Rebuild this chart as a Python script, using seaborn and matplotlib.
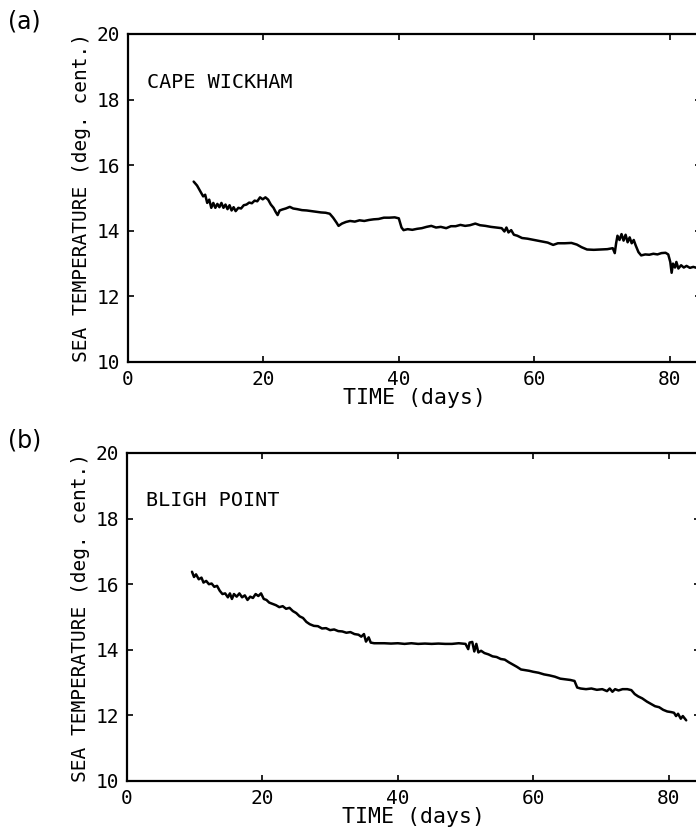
import matplotlib
matplotlib.use("Agg")
import matplotlib.pyplot as plt
import seaborn as sns
import pandas as pd

# ---- data ----
days_a = [9.7, 10.2, 10.7, 11.1, 11.4, 11.7, 12.0, 12.3, 12.6, 12.9, 13.2, 13.5, 13.8, 14.1, 14.4,
          14.7, 15.0, 15.3, 15.6, 15.9, 16.3, 16.7, 17.1, 17.5, 17.9, 18.3, 18.7, 19.1, 19.5, 19.9,
          20.3, 20.7, 21.1, 21.5, 21.8, 22.1, 22.4, 22.8, 23.3, 23.9, 24.4, 25.0, 25.7, 26.4, 27.1,
          27.8, 28.5, 29.2, 29.8, 30.3, 30.8, 31.1, 31.6, 32.2, 32.8, 33.5, 34.2, 34.9, 35.6, 36.3,
          37.0, 37.8, 38.6, 39.4, 40.0, 40.4, 40.7, 41.3, 42.0, 42.7, 43.4, 44.1, 44.8, 45.5, 46.2,
          47.0, 47.7, 48.4, 49.1, 49.8, 50.5, 51.3, 52.0, 52.8, 53.6, 54.4, 55.2, 55.6, 55.9, 56.2,
          56.6, 57.0, 57.5, 58.2, 59.0, 60.0, 61.0, 62.0, 62.8, 63.5, 64.5, 65.5, 66.3, 67.0, 67.8,
          68.8, 69.8, 70.8, 71.6, 71.9, 72.1, 72.3, 72.6, 72.9, 73.2, 73.5, 73.8, 74.1, 74.4, 74.7,
          75.0, 75.4, 75.8, 76.4, 77.0, 77.6, 78.2, 78.8, 79.4, 79.8, 80.1, 80.3, 80.5, 80.8, 81.0,
          81.3, 81.7, 82.1, 82.5, 83.0, 83.5, 84.0, 84.4]
temp_a = [15.50, 15.38, 15.20, 15.05, 15.10, 14.85, 14.95, 14.70, 14.85, 14.70, 14.82, 14.72, 14.85, 14.70, 14.80,
          14.66, 14.78, 14.62, 14.72, 14.60, 14.70, 14.68, 14.78, 14.80, 14.86, 14.84, 14.92, 14.90, 15.02, 14.96,
          15.02, 14.95, 14.80, 14.70, 14.58, 14.48, 14.62, 14.65, 14.68, 14.73, 14.68, 14.66, 14.63, 14.62, 14.60,
          14.58, 14.56, 14.55, 14.52, 14.40, 14.25, 14.15, 14.22, 14.27, 14.30, 14.28, 14.32, 14.30, 14.33, 14.35,
          14.36, 14.40, 14.40, 14.41, 14.38, 14.10, 14.02, 14.05, 14.03, 14.06, 14.08, 14.12, 14.15, 14.10, 14.12,
          14.08, 14.14, 14.14, 14.18, 14.15, 14.17, 14.22, 14.17, 14.15, 14.12, 14.10, 14.08, 13.98, 14.10, 13.95,
          14.02, 13.88, 13.85, 13.78, 13.76, 13.72, 13.68, 13.64, 13.57, 13.62, 13.62, 13.63, 13.58, 13.50, 13.43,
          13.42, 13.43, 13.44, 13.47, 13.32, 13.62, 13.85, 13.72, 13.90, 13.70, 13.88, 13.65, 13.80, 13.62, 13.72,
          13.55, 13.35, 13.25, 13.28, 13.27, 13.30, 13.28, 13.32, 13.33, 13.28, 13.05, 12.72, 13.00, 12.88, 13.05,
          12.85, 12.95, 12.88, 12.93, 12.87, 12.90, 12.87, 12.90]

days_b = [9.6, 9.9, 10.2, 10.6, 11.0, 11.3, 11.7, 12.1, 12.5, 12.9, 13.3, 13.7, 14.1, 14.5, 14.9,
          15.2, 15.5, 15.8, 16.2, 16.6, 17.0, 17.4, 17.8, 18.2, 18.6, 19.0, 19.4, 19.8, 20.2, 20.6,
          21.0, 21.5, 22.0, 22.5, 23.0, 23.5, 24.0, 24.5, 25.0, 25.5, 26.0, 26.5, 27.0, 27.6, 28.2,
          28.8, 29.4, 30.0, 30.6, 31.2, 31.8, 32.4, 33.0, 33.6, 34.2, 34.6, 35.0, 35.3, 35.7, 36.0,
          36.5, 37.2, 38.0, 39.0, 40.0, 41.0, 42.0, 43.0, 44.0, 45.0, 46.0, 47.0, 48.0, 49.0, 50.0,
          50.4, 50.6, 51.0, 51.3, 51.6, 51.9, 52.3, 52.8, 53.4, 54.0, 54.6, 55.2, 55.8, 56.4, 57.0,
          57.6, 58.2, 58.8, 59.4, 60.0, 60.8, 61.6, 62.4, 63.2, 64.0, 64.8, 65.5, 66.1, 66.5, 67.0,
          67.8, 68.6, 69.4, 70.2, 70.9, 71.3, 71.7, 72.1, 72.6, 73.2, 73.9, 74.5, 75.0, 75.5, 76.1,
          76.8, 77.4, 78.0, 78.6, 79.2, 79.8, 80.4, 80.8, 81.1, 81.4, 81.8, 82.1, 82.6]
temp_b = [16.38, 16.22, 16.30, 16.15, 16.20, 16.05, 16.10, 16.00, 16.02, 15.92, 15.95, 15.80, 15.70, 15.72, 15.60,
          15.72, 15.55, 15.70, 15.62, 15.72, 15.60, 15.66, 15.52, 15.62, 15.58, 15.70, 15.64, 15.72, 15.55, 15.52,
          15.44, 15.40, 15.36, 15.30, 15.33, 15.25, 15.28, 15.18, 15.12, 15.02, 14.97, 14.85, 14.78, 14.73, 14.72,
          14.65, 14.66, 14.60, 14.62, 14.57, 14.56, 14.52, 14.54, 14.48, 14.46, 14.40, 14.48, 14.25, 14.38, 14.22,
          14.20, 14.20, 14.20, 14.19, 14.20, 14.18, 14.20, 14.18, 14.19, 14.18, 14.19, 14.18, 14.18, 14.20, 14.18,
          14.02, 14.22, 14.24, 13.95, 14.18, 13.92, 13.97, 13.90, 13.86, 13.80, 13.78, 13.72, 13.70, 13.62, 13.55,
          13.48, 13.40, 13.38, 13.36, 13.33, 13.30, 13.25, 13.22, 13.18, 13.12, 13.10, 13.08, 13.05, 12.85, 12.82,
          12.80, 12.82, 12.78, 12.80, 12.74, 12.82, 12.72, 12.80, 12.76, 12.80, 12.80, 12.77, 12.65, 12.58, 12.52,
          12.42, 12.35, 12.28, 12.25, 12.17, 12.12, 12.10, 12.08, 11.98, 12.05, 11.90, 11.98, 11.85]

panel_letters = ["(a)", "(b)"]
station_names = ["CAPE WICKHAM", "BLIGH POINT"]
x_ticks = [0, 20, 40, 60, 80]
y_ticks = [10, 12, 14, 16, 18, 20]
x_label = "TIME (days)"
y_label = "SEA TEMPERATURE (deg. cent.)"

sns.set_style("ticks")
plt.rcParams["font.family"] = ["DejaVu Sans Mono", "DejaVu Sans"]
plt.rcParams["axes.labelcolor"] = "black"
plt.rcParams["text.color"] = "black"

W, H = 696, 835
fig = plt.figure(figsize=(W / 100, H / 100), dpi=100)

px_per_day = 6.77
xmax = 84.6
panels = [
    dict(left=128, top=34, bottom=362, days=days_a, temps=temp_a),
    dict(left=127, top=453, bottom=781, days=days_b, temps=temp_b),
]

for i, p in enumerate(panels):
    width_px = xmax * px_per_day
    ax = fig.add_axes([p["left"] / W, 1 - p["bottom"] / H, width_px / W, (p["bottom"] - p["top"]) / H])
    df = pd.DataFrame({"day": p["days"], "temp": p["temps"]})
    sns.lineplot(data=df, x="day", y="temp", ax=ax, color="black", linewidth=1.8,
                 estimator=None, sort=False)
    ax.set_xlim(0, xmax)
    ax.set_ylim(10, 20)
    ax.set_xticks(x_ticks)
    ax.set_yticks(y_ticks)
    ax.set_xticklabels([str(t) for t in x_ticks])
    ax.set_yticklabels([str(t) for t in y_ticks])
    for s in ax.spines.values():
        s.set_visible(True)
        s.set_linewidth(1.6)
        s.set_color("black")
    ax.tick_params(direction="in", length=4.5, width=1.2, top=True, right=True,
                   labelsize=14, colors="black")
    ax.tick_params(axis="x", pad=6)
    ax.tick_params(axis="y", pad=6)
    ax.set_xlabel(x_label, fontsize=15.5, labelpad=-1, color="black")
    ax.set_ylabel(y_label, fontsize=14, labelpad=4, color="black")
    ax.text(19 / (width_px), 1 - 48 / 328, station_names[i], transform=ax.transAxes,
            fontsize=14.5, ha="left", va="center", color="black")
    fig.text(8 / W, 1 - (p["top"] - 13) / H, panel_letters[i], fontsize=17,
             family="DejaVu Sans", ha="left", va="center", color="black")

fig.savefig("out.png", dpi=100, facecolor="white")
